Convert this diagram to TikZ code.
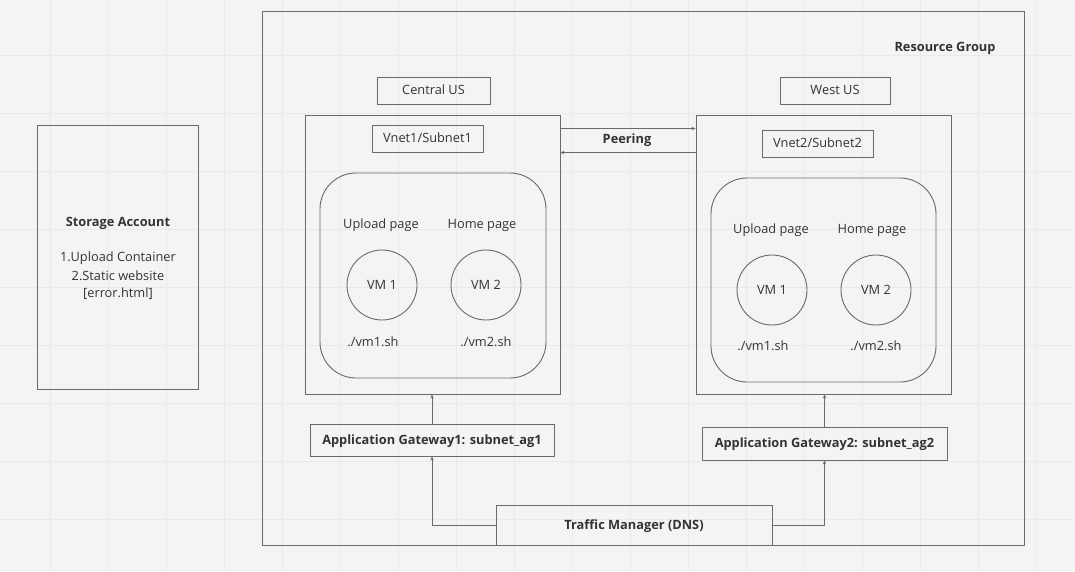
\documentclass[tikz,border=0pt]{standalone}
\usepackage{fontspec}
\setmainfont{Open Sans}
\usetikzlibrary{arrows.meta}
\definecolor{bgc}{HTML}{F4F4F4}
\definecolor{gridc}{HTML}{EAEAEA}
\definecolor{linec}{HTML}{6A6A6A}
\definecolor{txtc}{HTML}{333333}
\tikzset{
  box/.style={draw=linec, line width=0.9pt, rectangle, inner sep=0pt, text=txtc, text height=9pt, text depth=1pt, font=\fontsize{12.8}{15}\selectfont},
  bbox/.style={box, font=\fontsize{12.8}{15}\selectfont\bfseries},
  rbox/.style={box, rounded corners=36pt},
  vm/.style={draw=linec, line width=0.9pt, circle, minimum size=70pt, inner sep=0pt, text=txtc, font=\fontsize{12.8}{15}\selectfont},
  lbl/.style={text=txtc, inner sep=0pt, font=\fontsize{12.8}{15}\selectfont},
  blbl/.style={lbl, font=\fontsize{12.8}{15}\selectfont\bfseries},
  conn/.style={draw=linec, line width=0.9pt, -{Stealth[length=4pt,width=3.5pt]}}
}
\begin{document}
\begin{tikzpicture}[x=1pt,y=-1pt]
\fill[bgc] (0,0) rectangle (1075,571);
\useasboundingbox (0,0) rectangle (1075,571);
\foreach \gx in {50,108,...,1075} \draw[gridc, line width=0.8pt] (\gx,0) -- (\gx,571);
\foreach \gy in {55,113,...,571} \draw[gridc, line width=0.8pt] (0,\gy) -- (1075,\gy);

% Resource group
\node[box, minimum width=762pt, minimum height=534pt] (rg) at (643,278) {};
\node[blbl] (rgl) at (945,48) {Resource Group};

% Storage account
\node[box, minimum width=161pt, minimum height=264pt] (sa) at (117.5,257) {};
\node[blbl] (sat) at (118,223) {Storage Account};
\node[lbl] (sa1) at (118,258) {1.Upload Container};
\node[lbl] (sa2) at (118,276) {2.Static website};
\node[lbl] (sa3) at (118,294) {[error.html]};

% Regions
\node[box, minimum width=113pt, minimum height=27pt] (cus) at (433.5,90.5) {Central US};
\node[box, minimum width=110pt, minimum height=27pt] (wus) at (835,90.5) {West US};

% Vnets
\node[box, minimum width=255pt, minimum height=279pt] (vn1) at (432.5,254.5) {};
\node[box, minimum width=255pt, minimum height=279pt] (vn2) at (823.5,254.5) {};
\node[box, minimum width=111pt, minimum height=27pt] (sn1) at (427.5,138.5) {Vnet1/Subnet1};
\node[box, minimum width=111pt, minimum height=27pt] (sn2) at (817.5,143.5) {Vnet2/Subnet2};

\node[rbox, minimum width=226pt, minimum height=205pt] (in1) at (433,275.5) {};
\node[rbox, minimum width=225pt, minimum height=204pt] (in2) at (823.5,280) {};

\node[lbl] (up1) at (381,225) {Upload page};
\node[lbl] (hp1) at (482,225) {Home page};
\node[vm] (vm11) at (382,285) {VM 1};
\node[vm] (vm12) at (486,285) {VM 2};
\node[lbl] (sh11) at (373,342) {./vm1.sh};
\node[lbl] (sh12) at (486,342) {./vm2.sh};

\node[lbl] (up2) at (771,230) {Upload page};
\node[lbl] (hp2) at (872,230) {Home page};
\node[vm] (vm21) at (772,290) {VM 1};
\node[vm] (vm22) at (876,290) {VM 2};
\node[lbl] (sh21) at (763,346) {./vm1.sh};
\node[lbl] (sh22) at (876,346) {./vm2.sh};

% Peering
\draw[conn] ([yshift=-14pt]vn1.north east) -- ([yshift=-14pt]vn2.north west);
\draw[conn] ([yshift=-38pt]vn2.north west) -- ([yshift=-38pt]vn1.north east);
\node[blbl] (peer) at (627,140) {Peering};

% Gateways
\node[bbox, minimum width=244pt, minimum height=32pt] (ag1) at (432,440) {Application Gateway1: subnet\_ag1};
\node[bbox, minimum width=245pt, minimum height=33pt] (ag2) at (824.5,443.5) {Application Gateway2: subnet\_ag2};
\draw[conn] (ag1.north) -- (ag1.north |- vn1.south);
\draw[conn] (ag2.north) -- (ag2.north |- vn2.south);

% Traffic manager
\node[bbox, minimum width=276pt, minimum height=40pt] (tm) at (634,525) {Traffic Manager (DNS)};
\draw[conn] (tm.west) -| (ag1.south);
\draw[conn] (tm.east) -| (ag2.south);
\end{tikzpicture}
\end{document}
